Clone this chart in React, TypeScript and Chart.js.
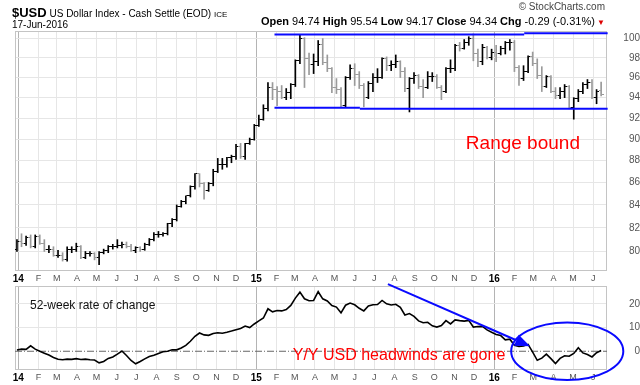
import React, { useEffect, useRef } from 'react';
import { Chart, registerables } from 'chart.js';

Chart.register(...registerables);

const FONT = '"Liberation Sans", Arial, Helvetica, sans-serif';

// Weekly bars, first week starts Monday 2013-12-30
const FIRST_WEEK = '2013-12-30';
const AXIS_START = '2014-01-01';
const AXIS_MONTHS = 30;

const OPEN = [
  80.2, 80.8, 80.7, 81.2, 80.4, 81.3, 80.7, 80.2, 80.2, 79.7, 79.7, 79.3, 80.2, 80.2, 80.4, 79.5, 79.8, 79.8, 79.5, 79.9,
  80.1, 80.4, 80.4, 80.5, 80.6, 80.4, 80.1, 80.3, 80.2, 80.6, 81.0, 81.4, 81.4, 81.5, 82.4, 82.7, 83.9, 84.3, 84.8, 85.6,
  86.8, 85.9, 85.3, 85.9, 87.0, 87.6, 87.6, 88.3, 88.4, 89.3, 88.4, 89.6, 90.0, 91.3, 91.9, 92.9, 95.0, 94.8, 94.6, 94.0,
  94.5, 95.3, 97.7, 100.0, 97.9, 97.3, 97.6, 99.4, 97.5, 96.9, 95.0, 94.8, 93.2, 96.0, 96.9, 96.3, 95.2, 94.0, 95.4, 96.0,
  96.0, 97.9, 97.2, 97.3, 97.6, 96.6, 94.9, 95.9, 96.2, 95.1, 95.0, 96.1, 96.1, 95.0, 94.6, 96.9, 96.9, 99.3, 99.0, 99.6,
  100.0, 98.4, 97.6, 99.1, 98.0, 98.6, 98.5, 99.0, 99.6, 99.6, 97.0, 95.9, 96.6, 98.1, 97.4, 96.2, 95.1, 96.1, 94.6, 94.2,
  94.6, 95.1, 93.0, 93.9, 94.6, 95.3, 95.5, 94.0, 94.74,
];
const HIGH = [
  81.0, 81.5, 81.3, 81.4, 81.4, 81.4, 81.0, 80.5, 80.4, 80.1, 79.9, 80.4, 80.4, 80.7, 80.5, 80.0, 80.0, 79.9, 80.0, 80.2,
  80.5, 80.6, 81.0, 80.8, 80.8, 80.6, 80.4, 80.4, 80.7, 81.1, 81.6, 81.7, 81.6, 82.4, 82.8, 84.0, 84.4, 84.8, 85.7, 86.8,
  86.8, 86.0, 86.0, 87.2, 88.2, 88.2, 88.3, 88.5, 89.5, 89.6, 89.6, 90.1, 91.4, 92.3, 93.3, 95.5, 95.5, 95.1, 95.2, 94.9,
  95.4, 97.8, 100.4, 100.1, 98.5, 98.4, 99.8, 100.0, 98.3, 97.0, 95.9, 95.0, 96.1, 97.3, 97.4, 96.6, 95.4, 95.6, 96.4, 96.9,
  98.0, 98.1, 97.7, 98.3, 97.7, 97.0, 96.0, 96.5, 96.3, 95.8, 96.6, 96.5, 96.3, 95.2, 97.0, 97.8, 99.4, 99.6, 99.9, 100.2,
  100.5, 98.9, 99.4, 99.2, 98.9, 99.3, 99.2, 99.7, 99.9, 99.8, 97.2, 97.2, 98.2, 98.6, 97.9, 97.1, 96.2, 96.2, 95.0, 95.0,
  95.3, 95.2, 94.0, 94.8, 95.5, 95.8, 95.8, 94.8, 95.54,
];
const LOW = [
  80.0, 80.4, 80.5, 80.3, 80.3, 80.6, 80.0, 79.9, 79.6, 79.5, 79.2, 79.2, 79.9, 80.0, 79.4, 79.4, 79.6, 79.3, 78.9, 79.8,
  79.9, 80.2, 80.3, 80.3, 80.3, 80.0, 79.9, 80.0, 80.1, 80.5, 80.9, 81.2, 81.3, 81.4, 82.1, 82.6, 83.8, 84.1, 84.7, 85.4,
  85.6, 84.5, 85.2, 85.7, 86.9, 87.2, 87.4, 87.8, 88.1, 88.2, 88.1, 89.5, 89.9, 91.2, 91.8, 92.7, 93.8, 93.2, 93.9, 93.8,
  93.9, 95.1, 97.4, 95.0, 96.3, 96.4, 97.2, 97.3, 96.6, 94.5, 94.4, 93.1, 93.1, 95.8, 95.2, 94.9, 93.1, 93.9, 94.6, 95.5,
  95.9, 96.7, 96.7, 97.0, 96.0, 94.6, 92.6, 95.4, 94.9, 94.0, 94.9, 95.6, 94.9, 93.8, 94.5, 96.5, 96.7, 98.7, 98.9, 99.3,
  97.7, 97.1, 97.3, 97.9, 97.8, 97.6, 98.3, 98.4, 98.8, 96.6, 95.2, 95.7, 96.5, 97.2, 95.9, 94.6, 95.0, 94.5, 93.9, 93.9,
  94.0, 92.9, 91.9, 93.6, 94.4, 94.9, 93.9, 93.4, 94.17,
];
const CLOSE = [
  80.8, 80.7, 81.2, 80.4, 81.3, 80.7, 80.2, 80.2, 79.7, 79.7, 79.3, 80.2, 80.2, 80.4, 79.5, 79.8, 79.8, 79.5, 79.9, 80.1,
  80.4, 80.4, 80.5, 80.6, 80.4, 80.1, 80.3, 80.2, 80.6, 81.0, 81.4, 81.4, 81.5, 82.4, 82.7, 83.9, 84.3, 84.8, 85.6, 86.8,
  85.9, 85.3, 85.9, 87.0, 87.6, 87.6, 88.3, 88.4, 89.3, 88.4, 89.6, 90.0, 91.3, 91.9, 92.9, 95.0, 94.8, 94.6, 94.0, 94.5,
  95.3, 97.7, 100.0, 97.9, 97.3, 97.6, 99.4, 97.5, 96.9, 95.0, 94.8, 93.2, 96.0, 96.9, 96.3, 95.2, 94.0, 95.4, 96.0, 96.0,
  97.9, 97.2, 97.3, 97.6, 96.6, 94.9, 95.9, 96.2, 95.1, 95.0, 96.1, 96.1, 95.0, 94.6, 96.9, 96.9, 99.3, 99.0, 99.6, 100.0,
  98.4, 97.6, 99.1, 98.0, 98.6, 98.5, 99.0, 99.6, 99.6, 97.0, 95.9, 96.6, 98.1, 97.4, 96.2, 95.1, 96.1, 94.6, 94.2, 94.6,
  95.1, 93.0, 93.9, 94.6, 95.3, 95.5, 94.0, 94.6, 94.34,
];
// 52-week rate of change (%), weekly
const ROC = [
  0.5, 0.9, 0.8, 2.3, 0.9, 0.0, -0.8, -1.6, -2.6, -3.4, -3.6, -3.3, -3.4, -3.1, -3.5, -3.3, -3.6, -3.7, -4.9, -4.3,
  -3.0, -2.4, -1.2, 0.1, -1.8, -3.9, -5.3, -4.3, -3.2, -2.2, -1.7, -0.9, -0.2, 0.0, 0.6, 0.6, 1.4, 2.5, 4.2, 6.3,
  7.7, 6.9, 6.7, 7.5, 7.8, 7.6, 8.0, 8.5, 9.1, 9.6, 10.6, 10.0, 11.5, 12.8, 14.0, 17.9, 16.6, 17.2, 17.0, 17.6,
  19.3, 22.4, 24.9, 22.1, 21.3, 21.4, 25.1, 22.1, 21.2, 19.3, 18.6, 16.2, 19.4, 20.3, 19.6, 18.1, 17.0, 19.1, 19.6, 19.7,
  21.4, 20.0, 19.5, 19.8, 18.5, 15.3, 15.9, 14.7, 12.8, 12.0, 12.2, 10.7, 10.2, 10.8, 12.9, 11.5, 13.2, 12.9, 12.7, 13.0,
  10.2, 10.4, 10.5, 9.0, 8.0, 7.1, 6.6, 4.8, 5.1, 2.5, 2.0, 2.2, 2.9, -0.4, -3.8, -2.9, -1.2, -3.1, -5.2, -3.0,
  -1.9, -2.1, -0.9, 1.5, -0.7, -1.4, -2.4, -0.6, 0.3,
];

const PRICE_TICKS = [80, 82, 84, 86, 88, 90, 92, 94, 96, 98, 100];
const ROC_TICKS = [0, 10, 20];
const MONTH_LETTERS = ['J', 'F', 'M', 'A', 'M', 'J', 'J', 'A', 'S', 'O', 'N', 'D'];

const PRICE_MIN = 78.38;
const PRICE_MAX = 100.8;
const ROC_MIN = -7.9;
const ROC_MAX = 27.5;
const X_MIN = -5;
const X_MAX = 903;

// Range-bound channel lines: [from, to, level]
const RANGE_LINES: [string, string, number][] = [
  ['2015-01-29', '2016-02-16', 100.44],
  ['2016-02-16', '2016-06-23', 100.55],
  ['2015-01-29', '2015-06-09', 93.01],
  ['2015-06-09', '2016-06-23', 92.91],
];

const NOTE_RANGE = { text: 'Range bound', date: '2016-02-14', value: 89.6 };
const NOTE_YY = { text: 'Y/Y USD headwinds are gone', date: '2015-02-26', value: -1.65 };
const NOTE_ROC = { text: '52-week rate of change', date: '2014-01-19', value: 19.2 };
const ARROW = { from: ['2015-07-22', 28.3] as [string, number], to: ['2016-02-25', 2.1] as [string, number] };
const ELLIPSE = { date: '2016-04-22', value: 0, halfDays: 86, halfValue: 12.1 };

const TITLE_SYMBOL = '$USD';
const TITLE_NAME = 'US Dollar Index - Cash Settle (EOD)';
const TITLE_EXCH = 'ICE';
const TITLE_DATE = '17-Jun-2016';
const QUOTE: [string, string][] = [
  ['Open', '94.74'],
  ['High', '95.54'],
  ['Low', '94.17'],
  ['Close', '94.34'],
  ['Chg', '-0.29 (-0.31%)'],
];

const BLUE = '#0a0aff';
const RED = '#ff0000';
const UP_COLOR = '#000000';
const DOWN_COLOR = '#9a9a9a';

const dayOf = (s: string) => (Date.parse(s) - Date.parse(AXIS_START)) / 86400000;

export default function App() {
  const topRef = useRef<HTMLCanvasElement>(null);
  const botRef = useRef<HTMLCanvasElement>(null);

  useEffect(() => {
    document.body.style.margin = '0';
    const weekX = OPEN.map((_, i) => dayOf(FIRST_WEEK) + 7 * i);
    const up = CLOSE.map((c, i) => c >= (i === 0 ? OPEN[0] : CLOSE[i - 1]));
    const barColors = up.map((u) => (u ? UP_COLOR : DOWN_COLOR));

    const tickImg = (color: string, left: boolean) => {
      const c = document.createElement('canvas');
      c.width = 5;
      c.height = 1;
      const g = c.getContext('2d')!;
      g.fillStyle = color;
      g.fillRect(left ? 0 : 3, 0, 2, 1);
      return c;
    };
    const openImgs = [tickImg(UP_COLOR, true), tickImg(DOWN_COLOR, true)];
    const closeImgs = [tickImg(UP_COLOR, false), tickImg(DOWN_COLOR, false)];

    const monthTicks: number[] = [];
    for (let m = 0; m < AXIS_MONTHS; m++) {
      const yr = 2014 + Math.floor(m / 12);
      const mo = String((m % 12) + 1).padStart(2, '0');
      monthTicks.push(dayOf(`${yr}-${mo}-01`));
    }
    const yearTicks = new Set(monthTicks.filter((_, i) => i % 12 === 0));

    const xScale = (height: number) => ({
      type: 'linear' as const,
      min: X_MIN,
      max: X_MAX,
      offset: false,
      afterBuildTicks: (s: any) => {
        s.ticks = monthTicks.map((v) => ({ value: v }));
      },
      afterFit: (s: any) => {
        s.height = height;
      },
      grid: {
        color: (c: any) => (c.tick && yearTicks.has(c.tick.value) ? '#b4b4b4' : '#e6e6e6'),
        drawTicks: false,
        offset: false,
      },
      border: { display: false },
      ticks: {
        autoSkip: false,
        maxRotation: 0,
        minRotation: 0,
        padding: 2,
        callback: (_v: any, i: number) => (i % 12 === 0 ? String(14 + i / 12) : MONTH_LETTERS[i % 12]),
        color: (c: any) => (c.index % 12 === 0 ? '#000' : '#555'),
        font: (c: any) =>
          c.index % 12 === 0
            ? { family: FONT, size: 10, weight: 'bold' }
            : { family: FONT, size: 9, weight: 'normal' },
      },
    });

    const framePlugin = {
      id: 'frame',
      beforeDatasetsDraw(chart: any) {
        const { ctx, chartArea: a } = chart;
        ctx.save();
        ctx.strokeStyle = '#c4c4c4';
        ctx.lineWidth = 1;
        ctx.strokeRect(Math.round(a.left) + 0.5, Math.round(a.top) + 0.5, Math.round(a.width) - 1, Math.round(a.height) - 1);
        ctx.restore();
      },
    };

    const topNotes = {
      id: 'topNotes',
      afterDatasetsDraw(chart: any) {
        const { ctx, scales } = chart;
        ctx.save();
        ctx.font = `19px ${FONT}`;
        ctx.fillStyle = RED;
        ctx.textAlign = 'center';
        ctx.textBaseline = 'middle';
        ctx.fillText(NOTE_RANGE.text, scales.x.getPixelForValue(dayOf(NOTE_RANGE.date)), scales.y.getPixelForValue(NOTE_RANGE.value));
        ctx.restore();
      },
    };

    const botNotes = {
      id: 'botNotes',
      afterDatasetsDraw(chart: any) {
        const { ctx, scales } = chart;
        const px = (d: string) => scales.x.getPixelForValue(dayOf(d));
        const py = (v: number) => scales.y.getPixelForValue(v);
        ctx.save();
        ctx.textBaseline = 'middle';
        ctx.textAlign = 'left';
        ctx.font = `12px ${FONT}`;
        ctx.fillStyle = '#111';
        ctx.fillText(NOTE_ROC.text, px(NOTE_ROC.date), py(NOTE_ROC.value));
        ctx.font = `16px ${FONT}`;
        ctx.fillStyle = RED;
        ctx.fillText(NOTE_YY.text, px(NOTE_YY.date), py(NOTE_YY.value));

        // ellipse
        const cx = px(ELLIPSE.date);
        const cy = py(ELLIPSE.value);
        const rx = scales.x.getPixelForValue(dayOf(ELLIPSE.date) + ELLIPSE.halfDays) - cx;
        const ry = cy - py(ELLIPSE.value + ELLIPSE.halfValue);
        ctx.strokeStyle = BLUE;
        ctx.lineWidth = 2;
        ctx.beginPath();
        ctx.ellipse(cx, cy, rx, ry, 0, 0, Math.PI * 2);
        ctx.stroke();

        // arrow
        const x1 = px(ARROW.from[0]);
        const y1 = py(ARROW.from[1]);
        const x2 = px(ARROW.to[0]);
        const y2 = py(ARROW.to[1]);
        const ang = Math.atan2(y2 - y1, x2 - x1);
        const headLen = 15;
        const headW = 6;
        const bx = x2 - headLen * Math.cos(ang);
        const by = y2 - headLen * Math.sin(ang);
        ctx.beginPath();
        ctx.moveTo(x1, y1);
        ctx.lineTo(bx, by);
        ctx.stroke();
        ctx.fillStyle = BLUE;
        ctx.beginPath();
        ctx.moveTo(x2, y2);
        ctx.lineTo(bx + headW * Math.sin(ang), by - headW * Math.cos(ang));
        ctx.lineTo(bx - headW * Math.sin(ang), by + headW * Math.cos(ang));
        ctx.closePath();
        ctx.fill();
        ctx.restore();
      },
    };

    const rangeSets = RANGE_LINES.map(([a, b, lv]) => ({
      type: 'line' as const,
      data: [
        { x: dayOf(a), y: lv },
        { x: dayOf(b), y: lv },
      ],
      borderColor: BLUE,
      borderWidth: 2,
      pointRadius: 0,
      clip: false as any,
    }));

    const top = new Chart(topRef.current!, {
      type: 'line',
      data: {
        datasets: [
          ...rangeSets,
          {
            type: 'line',
            data: weekX.map((x, i) => ({ x, y: OPEN[i] })),
            showLine: false,
            pointRadius: 2,
            pointHoverRadius: 2,
            pointStyle: (c: any) => openImgs[up[c.dataIndex] ? 0 : 1],
          } as any,
          {
            type: 'line',
            data: weekX.map((x, i) => ({ x, y: CLOSE[i] })),
            showLine: false,
            pointRadius: 2,
            pointHoverRadius: 2,
            pointStyle: (c: any) => closeImgs[up[c.dataIndex] ? 0 : 1],
          } as any,
          {
            type: 'bar',
            data: weekX.map((x, i) => ({ x, y: [LOW[i], HIGH[i]] })),
            backgroundColor: barColors,
            borderWidth: 0,
            barThickness: 1,
          } as any,
        ],
      },
      options: {
        responsive: false,
        animation: false,
        devicePixelRatio: 1,
        layout: { padding: { top: 31, left: 15, right: 0, bottom: 0 } },
        plugins: { legend: { display: false }, tooltip: { enabled: false } },
        events: [],
        scales: {
          x: xScale(17) as any,
          y: {
            type: 'logarithmic',
            position: 'right',
            min: PRICE_MIN,
            max: PRICE_MAX,
            afterBuildTicks: (s: any) => {
              s.ticks = PRICE_TICKS.map((v) => ({ value: v }));
            },
            afterFit: (s: any) => {
              s.width = 33;
            },
            grid: { color: '#e6e6e6', drawTicks: false },
            border: { display: false },
            ticks: {
              callback: (v: any) => String(v),
              padding: 2,
              crossAlign: 'far',
              color: '#555',
              font: { family: FONT, size: 10 },
            },
          } as any,
        },
      },
      plugins: [framePlugin, topNotes],
    });

    const bot = new Chart(botRef.current!, {
      type: 'line',
      data: {
        datasets: [
          {
            data: weekX.map((x, i) => ({ x, y: ROC[i] })),
            borderColor: '#000',
            borderWidth: 1.6,
            pointRadius: 0,
            tension: 0,
          },
          {
            data: [
              { x: X_MIN, y: 0 },
              { x: X_MAX, y: 0 },
            ],
            borderColor: '#666',
            borderWidth: 1,
            borderDash: [7, 2, 1, 2],
            pointRadius: 0,
          },
        ],
      },
      options: {
        responsive: false,
        animation: false,
        devicePixelRatio: 1,
        layout: { padding: { top: 7, left: 15, right: 0, bottom: 0 } },
        plugins: { legend: { display: false }, tooltip: { enabled: false } },
        events: [],
        scales: {
          x: xScale(15) as any,
          y: {
            type: 'linear',
            position: 'right',
            min: ROC_MIN,
            max: ROC_MAX,
            afterBuildTicks: (s: any) => {
              s.ticks = ROC_TICKS.map((v) => ({ value: v }));
            },
            afterFit: (s: any) => {
              s.width = 33;
            },
            grid: { color: (c: any) => (c.tick && c.tick.value === 0 ? 'rgba(0,0,0,0)' : '#e6e6e6'), drawTicks: false },
            border: { display: false },
            ticks: {
              callback: (v: any) => String(v),
              padding: 2,
              crossAlign: 'far',
              color: '#555',
              font: { family: FONT, size: 10 },
            },
          } as any,
        },
      },
      plugins: [framePlugin, botNotes],
    });

    return () => {
      top.destroy();
      bot.destroy();
    };
  }, []);

  return (
    <div style={{ position: 'relative', width: 640, height: 385, background: '#fff', fontFamily: FONT, overflow: 'hidden' }}>
      <canvas ref={topRef} width={640} height={288} style={{ position: 'absolute', left: 0, top: 0 }} />
      <canvas ref={botRef} width={640} height={107} style={{ position: 'absolute', left: 0, top: 278 }} />
      <div style={{ position: 'absolute', left: 12, top: 5, whiteSpace: 'nowrap', lineHeight: '14px', color: '#000' }}>
        <span style={{ fontSize: 13, fontWeight: 'bold' }}>{TITLE_SYMBOL}</span>
        <span style={{ fontSize: 10 }}> {TITLE_NAME} </span>
        <span style={{ fontSize: 8 }}>{TITLE_EXCH}</span>
      </div>
      <div style={{ position: 'absolute', left: 12, top: 19, fontSize: 10, lineHeight: '12px', color: '#000', whiteSpace: 'nowrap' }}>
        {TITLE_DATE}
      </div>
      <div style={{ position: 'absolute', right: 35, top: 1, fontSize: 10, lineHeight: '12px', color: '#444', whiteSpace: 'nowrap' }}>
        © StockCharts.com
      </div>
      <div style={{ position: 'absolute', right: 35, top: 15, fontSize: 11, lineHeight: '13px', color: '#000', whiteSpace: 'nowrap' }}>
        {QUOTE.map(([k, v], i) => (
          <span key={k}>
            <b>{k}</b>
            <span> {v}</span>
            {i < QUOTE.length - 1 ? ' ' : ''}
          </span>
        ))}
        <span style={{ color: '#d00', fontSize: 8 }}> ▼</span>
      </div>
    </div>
  );
}
